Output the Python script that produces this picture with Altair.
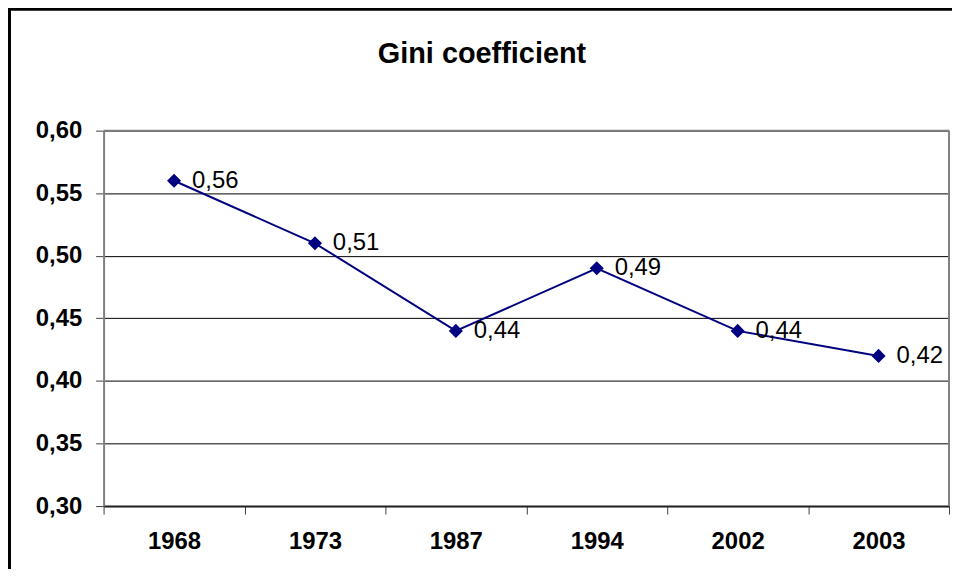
import altair as alt
import pandas as pd

years = ["1968", "1973", "1987", "1994", "2002", "2003"]
gini = [0.56, 0.51, 0.44, 0.49, 0.44, 0.42]
y_ticks = [0.30, 0.35, 0.40, 0.45, 0.50, 0.55, 0.60]
title_text = "Gini coefficient"

FONT = "Liberation Sans, Arial, sans-serif"
W, H = 849, 377
NAVY = "#000080"

df = pd.DataFrame({"year": years, "gini": gini})
one = pd.DataFrame({"t": [title_text]})

x_enc = alt.X(
    "year:N", sort=None, title=None,
    scale=alt.Scale(type="band", paddingInner=0, paddingOuter=0),
    axis=alt.Axis(labelAngle=0, labelFont=FONT, labelFontSize=24, labelFontWeight="bold",
                  labelColor="black", labelPadding=16, tickSize=8, tickBand="extent",
                  tickColor="#404040", domainColor="#202020", domainWidth=2, grid=False),
)
y_enc = alt.Y(
    "gini:Q", title=None,
    scale=alt.Scale(domain=[0.30, 0.60], nice=False, zero=False),
    axis=alt.Axis(values=y_ticks, labelExpr="replace(format(datum.value, '.2f'), '.', ',')",
                  labelFont=FONT, labelFontSize=24, labelFontWeight="bold", labelColor="black",
                  labelPadding=14, tickSize=8, tickColor="#404040", domainColor="#808080",
                  domainWidth=2, gridColor="black", gridWidth=1),
)

base = alt.Chart(df).encode(x=x_enc, y=y_enc)
line = base.mark_line(color=NAVY, strokeWidth=2)
pts = base.mark_point(shape="diamond", filled=True, size=200, color=NAVY, opacity=1)
labels = base.transform_calculate(
    label="replace(format(datum.gini, '.2f'), '.', ',')"
).mark_text(align="left", baseline="middle", dx=18, font=FONT, fontSize=24, color="black").encode(
    text="label:N"
)

frame_top = alt.Chart(one).mark_rule(color="#808080", strokeWidth=2).encode(
    x=alt.value(0), x2=alt.value(W), y=alt.value(0)
)
frame_right = alt.Chart(one).mark_rule(color="#808080", strokeWidth=2).encode(
    x=alt.value(W), y=alt.value(0), y2=alt.value(H)
)
outer = alt.Chart(one).mark_rect(fillOpacity=0, stroke="black", strokeWidth=3).encode(
    x=alt.value(-94.5), x2=alt.value(960), y=alt.value(-122), y2=alt.value(700)
)
title = alt.Chart(one).mark_text(
    align="center", baseline="alphabetic", font=FONT, fontSize=29, fontWeight="bold", color="black"
).encode(x=alt.value(380), y=alt.value(-68), text="t:N")

chart = alt.layer(outer, frame_top, frame_right, line, pts, labels, title).properties(
    width=W, height=H,
    autosize=alt.AutoSizeParams(type="none"),
    padding={"left": 96, "top": 122, "right": 3, "bottom": 62},
    background="white",
).configure_view(strokeWidth=0)

chart.save("out.html", embed_options={"renderer": "svg", "actions": False})
